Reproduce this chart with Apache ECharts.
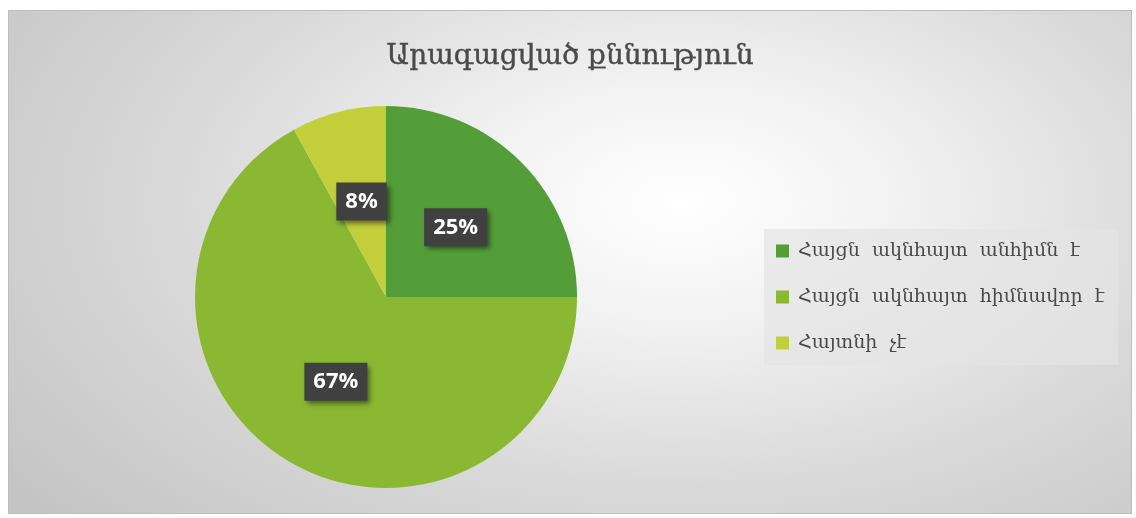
<!DOCTYPE html>
<html>
<head>
<meta charset="utf-8">
<script src="https://cdn.jsdelivr.net/npm/echarts@6/dist/echarts.min.js"></script>
<style>
    html, body { margin: 0; padding: 0; background: #fff; }
    #chart {
        position: absolute;
        left: 8px;
        top: 10px;
        width: 1122px;
        height: 502px;
        border: 1px solid #bdbdbd;
        background: radial-gradient(ellipse 75% 95% at 60% 38%, #ffffff 0%, #f2f2f2 25%, #d9d9d9 60%, #c4c4c4 100%);
    }
</style>
</head>
<body>
<div id="chart"></div>
<script>
    const title = 'Արագացված քննություն';
    const categories = ['Հայցն  ակնհայտ  անհիմն  է', 'Հայցն  ակնհայտ  հիմնավոր  է', 'Հայտնի  չէ'];
    const values = [25, 67, 8];
    const colors = ['#549E39', '#8AB833', '#C3CF3A'];

    const chart = echarts.init(document.getElementById('chart'));
    const option = {
        backgroundColor: 'transparent',
        title: {
            text: title,
            left: 'center',
            top: 27,
            textStyle: {
                fontFamily: 'DejaVu Serif',
                fontSize: 28,
                fontWeight: 'normal',
                color: '#4a4a4a',
                textBorderColor: '#4a4a4a',
                textBorderWidth: 0.4
            }
        },
        legend: {
            orient: 'vertical',
            left: 755,
            top: 218,
            padding: [12, 14, 12, 12],
            backgroundColor: 'rgba(228,228,228,0.7)',
            itemWidth: 13,
            itemHeight: 13,
            itemGap: 26,
            icon: 'rect',
            data: categories,
            textStyle: {
                fontFamily: 'DejaVu Serif',
                fontSize: 19,
                lineHeight: 20,
                color: '#4a4a4a',
                padding: [0, 0, 0, 4]
            }
        },
        series: [{
            type: 'pie',
            center: [377, 286],
            radius: 191,
            startAngle: 90,
            clockwise: true,
            avoidLabelOverlap: false,
            data: categories.map((name, i) => ({
                name: name,
                value: values[i],
                itemStyle: { color: colors[i] }
            })),
            label: {
                show: true,
                position: 'inside',
                formatter: '{d}%',
                fontFamily: 'Open Sans',
                fontWeight: 'bold',
                fontSize: 22,
                color: '#fff',
                backgroundColor: '#404040',
                padding: [9, 9, 7, 9],
                shadowColor: 'rgba(0,0,0,0.5)',
                shadowBlur: 5,
                shadowOffsetX: 3,
                shadowOffsetY: 3
            },
            labelLine: { show: false },
            emphasis: { disabled: true }
        }]
    };
    chart.setOption(option);
</script>
</body>
</html>
